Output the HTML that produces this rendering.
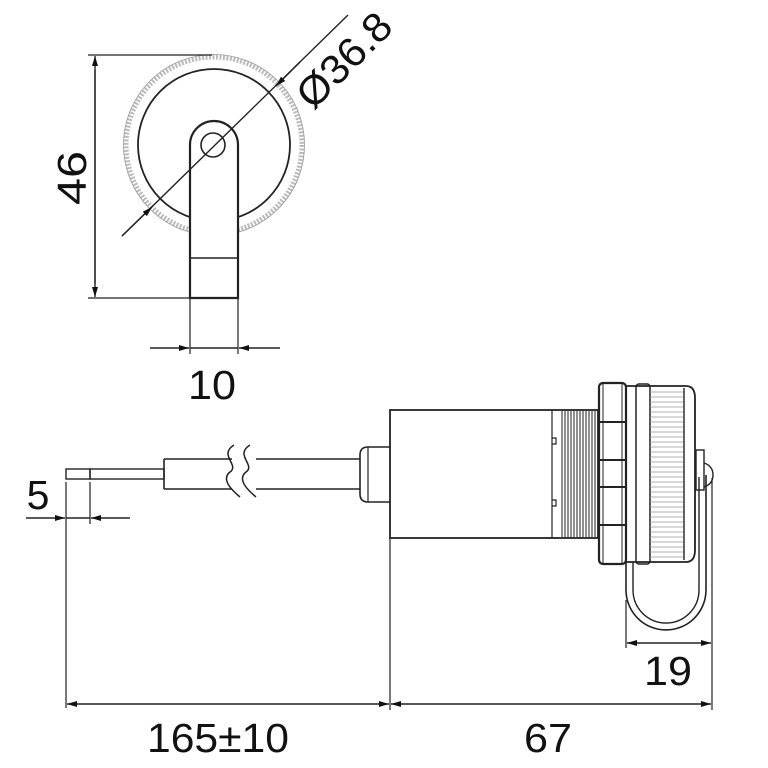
<!DOCTYPE html>
<html><head><meta charset="utf-8"><style>html,body{margin:0;padding:0;background:#fff}svg{display:block}</style></head>
<body>
<svg width="768" height="768" viewBox="0 0 768 768" xmlns="http://www.w3.org/2000/svg" font-family="Liberation Sans, sans-serif">
<defs>
<marker id="a" viewBox="0 0 10 6" refX="10" refY="3" markerWidth="14" markerHeight="6" markerUnits="userSpaceOnUse" orient="auto"><path d="M0,0 L10,3 L0,6 z" fill="#111"/></marker>
</defs>
<g stroke="#222" stroke-width="1.6" fill="none">
<circle cx="214" cy="145" r="88" stroke="#bbb" stroke-width="5" stroke-dasharray="2 1.5"/>
<circle cx="214" cy="145" r="90.5" stroke="#999" stroke-width="0.8"/>
<circle cx="214" cy="145" r="76" stroke-width="1.8"/>
<path d="M190,298 L190,145 A24,24 0 0 1 238,145 L238,298 Z" fill="#fff" stroke-width="2.2"/>
<line x1="190" y1="258" x2="238" y2="258"/>
<circle cx="213" cy="145" r="12"/>
<line x1="122" y1="236" x2="348" y2="15" stroke-width="1.4"/>
<line x1="122" y1="236" x2="152" y2="207" marker-end="url(#a)" stroke-width="1.4"/>
<line x1="300" y1="62" x2="276" y2="86" marker-end="url(#a)" stroke-width="1.4"/>
<line x1="88" y1="55" x2="212" y2="55" stroke-width="1.2"/>
<line x1="88" y1="298" x2="190" y2="298" stroke-width="1.2"/>
<line x1="95" y1="70" x2="95" y2="56" marker-end="url(#a)" stroke-width="1.4"/>
<line x1="95" y1="70" x2="95" y2="284"/>
<line x1="95" y1="284" x2="95" y2="297" marker-end="url(#a)" stroke-width="1.4"/>
<line x1="190" y1="298" x2="190" y2="354" stroke-width="1.2"/>
<line x1="238" y1="298" x2="238" y2="354" stroke-width="1.2"/>
<line x1="150" y1="348" x2="189" y2="348" marker-end="url(#a)" stroke-width="1.4"/>
<line x1="280" y1="348" x2="239" y2="348" marker-end="url(#a)" stroke-width="1.4"/>
<line x1="190" y1="348" x2="238" y2="348" stroke-width="1.4"/>

<rect x="66" y="469" width="24" height="10" stroke-width="1.4"/>
<rect x="90" y="469" width="74" height="10" stroke-width="1.4"/>
<path d="M164,459 H232 M164,489 H232 M164,459 V489" stroke-width="1.6"/>
<path d="M256,459 H360 M256,489 H360" stroke-width="1.6"/>
<path d="M234,445 C218,455 240,465 230,472 C220,480 234,492 240,497" stroke-width="1.5"/>
<path d="M250,445 C234,455 256,465 246,472 C236,480 250,492 256,497" stroke-width="1.5"/>
<path d="M390,447 H368 Q360,447 360,455 V494 Q360,502 368,502 H390" stroke-width="1.6"/>
<line x1="368" y1="447" x2="368" y2="502" stroke-width="1.2"/>
<rect x="390" y="410" width="208" height="128" stroke-width="1.8"/>
<line x1="552" y1="410" x2="552" y2="538" stroke-width="1.2"/>
<path d="M552,438 h4 v6 h-4 M552,500 h4 v6 h-4" stroke-width="1.2"/>
<g stroke-width="1.1" stroke="#333">
<line x1="562" y1="410" x2="562" y2="538"/><line x1="565" y1="410" x2="565" y2="538"/><line x1="568" y1="410" x2="568" y2="538"/><line x1="571" y1="410" x2="571" y2="538"/><line x1="574" y1="410" x2="574" y2="538"/><line x1="577" y1="410" x2="577" y2="538"/><line x1="580" y1="410" x2="580" y2="538"/><line x1="583" y1="410" x2="583" y2="538"/><line x1="586" y1="410" x2="586" y2="538"/><line x1="589" y1="410" x2="589" y2="538"/><line x1="592" y1="410" x2="592" y2="538"/><line x1="595" y1="410" x2="595" y2="538"/>
</g>
<rect x="599" y="383" width="27" height="181" rx="4" stroke-width="2.2"/>
<path d="M603,383 V564 M622,383 V564" stroke-width="1"/>
<path d="M599,422 H626 M599,460 H626 M599,487 H626 M599,525 H626" stroke-width="2"/>
<path d="M626,386 H686 Q695,386 695,398 V550 Q695,562 686,562 H626" stroke-width="1.8"/>
<rect x="636" y="384" width="14" height="180" rx="3" stroke-width="1.5"/>
<line x1="684" y1="388" x2="684" y2="560" stroke-width="1.4"/>
<g stroke="#999" stroke-width="0.8">
<path d="M650,392 H683 M650,397 H683 M650,402 H683 M650,407 H683 M650,412 H683 M650,417 H683 M650,422 H683 M650,427 H683 M650,432 H683 M650,437 H683 M650,442 H683 M650,447 H683 M650,452 H683 M650,457 H683 M650,462 H683 M650,467 H683 M650,472 H683 M650,477 H683 M650,482 H683 M650,487 H683 M650,492 H683 M650,497 H683 M650,502 H683 M650,507 H683 M650,512 H683 M650,517 H683 M650,522 H683 M650,527 H683 M650,532 H683 M650,537 H683 M650,542 H683 M650,547 H683 M650,552 H683 M650,557 H683"/>
</g>
<rect x="696" y="450" width="8" height="40" stroke-width="1.4"/>
<path d="M704,463 Q713,466 713,475 Q713,484 704,487" stroke-width="1.4"/>
<path d="M626,562 V590 A40,40 0 0 0 706,590 V475" stroke-width="1.6"/>
<path d="M633,562 V590 A33,33 0 0 0 699,590 V477" stroke-width="1.4"/>
<line x1="66" y1="482" x2="66" y2="708" stroke-width="1.2"/>
<line x1="90" y1="482" x2="90" y2="524" stroke-width="1.2"/>
<line x1="26" y1="518" x2="65" y2="518" marker-end="url(#a)" stroke-width="1.4"/>
<line x1="130" y1="518" x2="91" y2="518" marker-end="url(#a)" stroke-width="1.4"/>
<line x1="66" y1="518" x2="90" y2="518" stroke-width="1.4"/>
<line x1="626" y1="600" x2="626" y2="648" stroke-width="1.2"/>
<line x1="712" y1="478" x2="712" y2="710" stroke-width="1.2"/>
<line x1="660" y1="643" x2="627" y2="643" marker-end="url(#a)" stroke-width="1.4"/>
<line x1="660" y1="643" x2="711" y2="643" marker-end="url(#a)" stroke-width="1.4"/>
<line x1="390" y1="538" x2="390" y2="710" stroke-width="1.2"/>
<line x1="220" y1="704" x2="67" y2="704" marker-end="url(#a)" stroke-width="1.4"/>
<line x1="220" y1="704" x2="389" y2="704" marker-end="url(#a)" stroke-width="1.4"/>
<line x1="550" y1="704" x2="391" y2="704" marker-end="url(#a)" stroke-width="1.4"/>
<line x1="550" y1="704" x2="711" y2="704" marker-end="url(#a)" stroke-width="1.4"/>
</g>
<g fill="#111" font-size="41">
<text x="0" y="0" transform="translate(86,178) rotate(-90)" text-anchor="middle" textLength="54" lengthAdjust="spacingAndGlyphs">46</text>
<text x="0" y="0" transform="translate(354,70) rotate(-45)" text-anchor="middle" textLength="116" lengthAdjust="spacingAndGlyphs">Ø36.8</text>
<text x="212" y="399" text-anchor="middle" textLength="48" lengthAdjust="spacingAndGlyphs">10</text>
<text x="38" y="509" text-anchor="middle">5</text>
<text x="668" y="685" text-anchor="middle" textLength="48" lengthAdjust="spacingAndGlyphs">19</text>
<text x="218" y="752" text-anchor="middle" textLength="142" lengthAdjust="spacingAndGlyphs">165±10</text>
<text x="548" y="752" text-anchor="middle" textLength="48" lengthAdjust="spacingAndGlyphs">67</text>
</g>
</svg>
</body></html>
